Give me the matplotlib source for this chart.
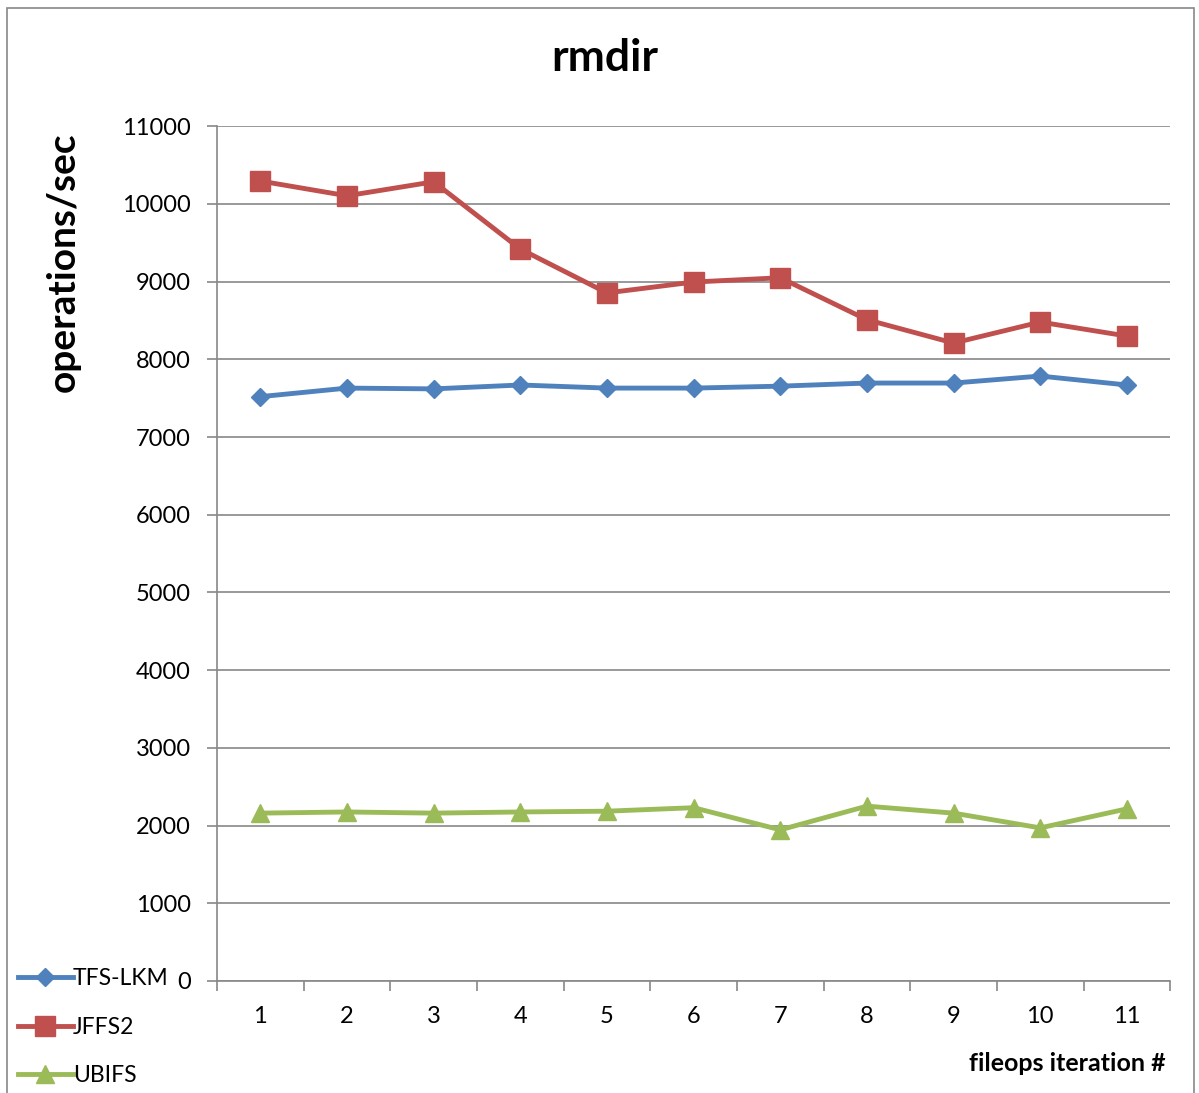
import matplotlib.pyplot as plt
from matplotlib.patches import Rectangle
from matplotlib.ticker import FixedLocator, MultipleLocator

plt.rcParams['font.family'] = ['Lato', 'DejaVu Sans']

# данные
iterations = ['1', '2', '3', '4', '5', '6', '7', '8', '9', '10', '11']
tfs_lkm = [7520, 7630, 7620, 7670, 7630, 7630, 7655, 7695, 7695, 7785, 7670]
jffs2 = [10295, 10105, 10285, 9420, 8855, 8995, 9050, 8510, 8210, 8480, 8300]
ubifs = [2160, 2175, 2160, 2175, 2185, 2230, 1945, 2250, 2160, 1970, 2215]

series_names = ['TFS-LKM', 'JFFS2', 'UBIFS']
colors = ['#4F81BD', '#C0504D', '#9BBB59']
markers = ['D', 's', '^']
marker_sizes = [9, 14, 13]

fig = plt.figure(figsize=(11.99, 10.93), dpi=100)
ax = fig.add_axes([0.181, 0.1025, 0.795, 0.782])

x = list(range(1, len(iterations) + 1))
lines = []
for vals, name, c, m, ms in zip([tfs_lkm, jffs2, ubifs], series_names, colors, markers, marker_sizes):
    ln, = ax.plot(x, vals, color=c, lw=3.5, marker=m, markersize=ms, label=name, zorder=3)
    lines.append(ln)

ax.set_xlim(0.5, len(iterations) + 0.5)
ax.set_ylim(0, 11000)
ax.yaxis.set_major_locator(MultipleLocator(1000))
ax.set_xticks(x)
ax.set_xticklabels(iterations)
ax.xaxis.set_minor_locator(FixedLocator([i + 0.5 for i in range(len(iterations) + 1)]))
ax.tick_params(axis='x', which='major', length=0, pad=18, labelsize=17)
ax.tick_params(axis='x', which='minor', length=7, color='#888888', width=1.2)
ax.tick_params(axis='y', length=7, color='#888888', width=1.2, labelsize=17, pad=12)
ax.grid(axis='y', color='#888888', lw=1.2)
ax.set_axisbelow(True)
for side in ['top', 'right']:
    ax.spines[side].set_visible(False)
for side in ['left', 'bottom']:
    ax.spines[side].set_color('#888888')
    ax.spines[side].set_linewidth(1.2)

fig.text(0.504, 0.947, 'rmdir', ha='center', va='center', fontsize=32, fontweight='bold')
fig.text(0.053, 0.76, 'operations/sec', ha='center', va='center', rotation=90,
         fontsize=28, fontweight='bold')
fig.text(0.972, 0.027, 'fileops iteration #', ha='right', va='center',
         fontsize=18, fontweight='bold')

fig.legend(handles=lines, loc='lower left', bbox_to_anchor=(0.009, 0.0), frameon=False,
           borderaxespad=0.0, borderpad=0.3,
           fontsize=16.5, handlelength=2.4, handletextpad=0.0, labelspacing=1.2)

# рамка вокруг рисунка
fig.patches.append(Rectangle((0.006, -0.01), 0.99, 1.003, transform=fig.transFigure,
                             fill=False, edgecolor='#888888', lw=1.2))

fig.savefig('out.png', dpi=100)
